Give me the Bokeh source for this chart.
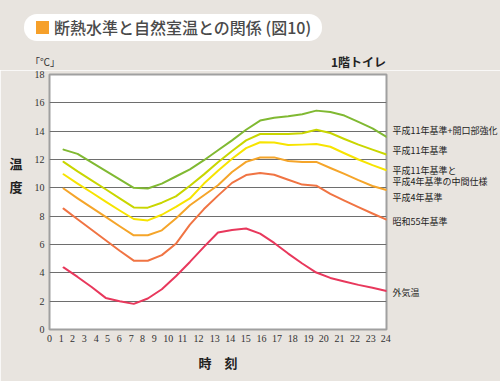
from bokeh.plotting import figure
from bokeh.models import FixedTicker, Range1d, LinearAxis, Div
from bokeh.layouts import column
from bokeh.embed import file_html
from bokeh.resources import INLINE

# ---- data ----
hours = list(range(1, 25))
h11_open = [12.7, 12.4, 11.8, 11.2, 10.6, 10.0, 9.95, 10.3, 10.8, 11.3, 11.95, 12.65,
            13.35, 14.1, 14.75, 14.95, 15.05, 15.2, 15.45, 15.35, 15.1, 14.65, 14.2, 13.6]
h11 = [11.83, 11.16, 10.53, 9.9, 9.26, 8.62, 8.6, 8.95, 9.4, 10.15, 10.95, 11.8,
       12.6, 13.35, 13.8, 13.8, 13.8, 13.85, 14.1, 13.87, 13.45, 13.05, 12.7, 12.35]
h_mid = [10.96, 10.3, 9.67, 9.03, 8.4, 7.8, 7.7, 8.1, 8.65, 9.25, 10.3, 11.2,
         12.05, 12.8, 13.22, 13.2, 13.02, 13.05, 13.1, 12.9, 12.44, 12.0, 11.6, 11.24]
h4 = [9.95, 9.26, 8.6, 7.95, 7.29, 6.65, 6.65, 7.0, 7.83, 8.77, 9.48, 10.18,
      11.12, 11.83, 12.14, 12.15, 11.9, 11.83, 11.83, 11.4, 10.98, 10.54, 10.13, 9.85]
s55 = [8.53, 7.78, 7.04, 6.3, 5.56, 4.86, 4.85, 5.25, 6.05, 7.4, 8.5, 9.45,
       10.35, 10.9, 11.05, 10.92, 10.57, 10.23, 10.15, 9.58, 9.1, 8.64, 8.19, 7.76]
outdoor = [4.38, 3.71, 3.0, 2.23, 2.0, 1.81, 2.19, 2.84, 3.76, 4.77, 5.83, 6.85,
           7.03, 7.13, 6.77, 6.11, 5.36, 4.66, 4.02, 3.64, 3.39, 3.15, 2.94, 2.72]

series = [h11_open, h11, h_mid, h4, s55, outdoor]
colors = ["#80b932", "#c9d600", "#f7e400", "#f5a52a", "#f07443", "#e8385c"]
# names written at the line ends (the third one runs over two lines)
name_lines = ["平成11年基準+開口部強化", "平成11年基準", "平成11年基準と", "平成4年基準の中間仕様",
              "平成4年基準", "昭和55年基準", "外気温"]

title_text = "断熱水準と自然室温との関係 (図10)"
unit_text = "「℃」"
room_text = "1階トイレ"

y_ticks = list(range(0, 19, 2))
x_tick_labels = [str(i) for i in range(25)]
# where the hour labels sit along the axis (they follow text flow in the original)
x_tick_pos = [0, 0.83, 1.64, 2.47, 3.33, 4.13, 4.96, 5.82, 6.62, 7.46, 8.45, 9.47, 10.61,
              11.77, 12.87, 13.98, 15.1, 16.21, 17.33, 18.45, 19.54, 20.66, 21.75, 22.88, 23.95]
# vertical places of the end-of-line names (right margin) and of the y title
name_pos = [14.04, 12.63, 11.22, 10.44, 9.29, 7.64, 2.63]
ytitle_pos = [11.72, 10.09]

JP = "Noto Sans CJK JP"
BG = "#e8e4df"

# ---------- header: title box, unit and room name ----------
header_html = f"""
<div style="position:relative;width:500px;height:70px;background:{BG};font-family:'{JP}';">
  <div style="position:absolute;left:24px;top:14px;width:298px;height:27px;background:#ffffff;border-radius:13px;"></div>
  <div style="position:absolute;left:35.5px;top:21px;width:13.5px;height:13.3px;background:#f6a02a;"></div>
  <div style="position:absolute;left:54px;top:19px;font-size:16px;line-height:16px;font-weight:500;color:#4a4a4a;white-space:nowrap;">{title_text}</div>
  <div style="position:absolute;left:30px;top:56px;font-size:10px;line-height:12px;color:#333333;white-space:nowrap;">{unit_text}</div>
  <div style="position:absolute;left:0px;width:386px;top:55px;text-align:right;font-size:12px;line-height:14px;font-weight:bold;color:#222222;white-space:nowrap;">{room_text}</div>
</div>
"""
hdr = Div(text=header_html, width=500, height=70, margin=0)

# ---------- main chart ----------
p = figure(frame_width=337, frame_height=255, output_backend="svg", toolbar_location=None,
           x_range=Range1d(0, 24), y_range=Range1d(0, 18), align="start",
           min_border_left=49, min_border_right=114, min_border_top=4, min_border_bottom=52)
p.background_fill_color = "white"
p.border_fill_color = BG
p.outline_line_color = "#a0a0a0"
p.outline_line_width = 2

p.xgrid.visible = False
p.ygrid.ticker = FixedTicker(ticks=y_ticks)
p.ygrid.grid_line_color = "#6e6e6e"
p.ygrid.grid_line_width = 1


def plain(ax, size="10px", font="Liberation Sans Narrow", color="#333333", bold=False):
    ax.axis_line_color = None
    ax.major_tick_line_color = None
    ax.minor_tick_line_color = None
    ax.major_tick_out = 0
    ax.major_tick_in = 0
    ax.minor_tick_out = 0
    ax.major_label_text_font = font
    ax.major_label_text_font_size = size
    ax.major_label_text_color = color
    if bold:
        ax.major_label_text_font_style = "bold"


xa, ya = p.xaxis[0], p.yaxis[0]
plain(xa)
plain(ya)
ya.ticker = FixedTicker(ticks=y_ticks)
ya.major_label_standoff = 5
xa.ticker = FixedTicker(ticks=x_tick_pos)
xa.major_label_overrides = {pos: lab for pos, lab in zip(x_tick_pos, x_tick_labels)}
xa.major_label_standoff = 5
xa.axis_label = "時　刻"
xa.axis_label_text_font = JP
xa.axis_label_text_font_size = "13px"
xa.axis_label_text_font_style = "bold"
xa.axis_label_text_color = "#222222"
xa.axis_label_standoff = 8

# y title "温 / 度" written upright, as labels of an outer left axis
yt = LinearAxis(ticker=FixedTicker(ticks=ytitle_pos),
                major_label_overrides={ytitle_pos[0]: "温", ytitle_pos[1]: "度"})
plain(yt, size="13px", font=JP, color="#222222", bold=True)
yt.major_label_standoff = 9
p.add_layout(yt, "left")

# names at the line ends, as labels of a right axis
ra = LinearAxis(ticker=FixedTicker(ticks=name_pos),
                major_label_overrides={pos: n for pos, n in zip(name_pos, name_lines)})
plain(ra, size="9px", font=JP, color="#222222")
ra.major_label_standoff = 6
p.add_layout(ra, "right")

for vals, col in zip(series, colors):
    p.line(hours, vals, line_color=col, line_width=2, line_join="round", line_cap="round")

layout = column(hdr, p, spacing=0)
open("out.html", "w").write(file_html(layout, INLINE))
